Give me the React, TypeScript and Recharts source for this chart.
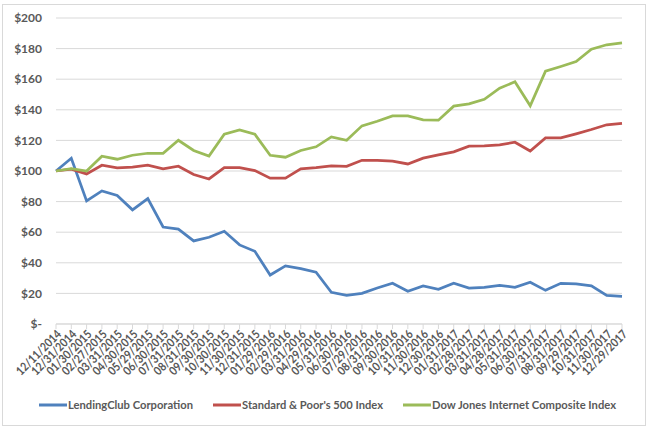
import React from 'react';
import { LineChart, Line, XAxis, YAxis, CartesianGrid, Legend } from 'recharts';

const dates = [
  '12/11/2014', '12/31/2014', '01/30/2015', '02/27/2015', '03/31/2015', '04/30/2015', '05/29/2015',
  '06/30/2015', '07/31/2015', '08/31/2015', '09/30/2015', '10/30/2015', '11/30/2015', '12/31/2015',
  '01/29/2016', '02/29/2016', '03/31/2016', '04/29/2016', '05/31/2016', '06/30/2016', '07/29/2016',
  '08/31/2016', '09/30/2016', '10/31/2016', '11/30/2016', '12/30/2016', '01/31/2017', '02/28/2017',
  '03/31/2017', '04/28/2017', '05/31/2017', '06/30/2017', '07/31/2017', '08/31/2017', '09/29/2017',
  '10/31/2017', '11/30/2017', '12/29/2017',
];

const lendingClub = [
  100, 108.3, 80.4, 87, 84, 74.6, 82, 63.4, 62, 54.3, 56.7, 60.6, 51.7, 47.5, 32, 38, 36.2, 33.8,
  20.7, 18.7, 20, 23.5, 26.6, 21.4, 24.9, 22.7, 26.6, 23.5, 24, 25.3, 24, 27.3, 22, 26.6, 26.2, 24.9,
  18.7, 18.1,
];

const sp500 = [
  100, 101.2, 98.1, 103.8, 102, 102.5, 103.8, 101.4, 103.1, 97.7, 94.8, 102.2, 102.2, 100.3, 95.3,
  95.3, 101.4, 102.2, 103.3, 103.1, 107, 107, 106.4, 104.6, 108.4, 110.5, 112.5, 116.2, 116.4, 117.1,
  118.8, 113.1, 121.6, 121.6, 124.3, 127.1, 130.2, 131.2,
];

const dowJones = [
  100, 101.6, 100, 109.7, 107.7, 110.3, 111.6, 111.6, 120.1, 113.4, 109.7, 124, 126.9, 124, 110.3,
  109, 113.4, 115.8, 122.3, 120.1, 129.5, 132.5, 136, 136, 133.4, 133.2, 142.4, 143.9, 146.9, 154.1,
  158.3, 142.6, 165.2, 168.3, 171.6, 179.6, 182.5, 183.8,
];

const yTicks = [0, 20, 40, 60, 80, 100, 120, 140, 160, 180, 200];

const seriesNames = [
  'LendingClub Corporation',
  "Standard & Poor's 500 Index",
  'Dow Jones Internet Composite Index',
];
const seriesColors = ['#4F81BD', '#C0504D', '#9BBB59'];

const data = dates.map((d, i) => ({
  date: d,
  lc: lendingClub[i],
  sp: sp500[i],
  dj: dowJones[i],
}));

const FONT = "Lato, 'Noto Sans', sans-serif";
const TEXT_COLOR = '#595959';

// style-only widths used to mimic the narrow Calibri rendering
const legendTextWidths = [125, 141, 184];
const LEGEND_LINE = 28;
const LEGEND_GAP = 20;
const LEGEND_START = 39;

const XTick = (props: any) => {
  const { x, y, payload } = props;
  const ax = x + 3;
  const ay = y + 3;
  return (
    <text
      x={ax}
      y={ay}
      transform={`rotate(-45, ${ax}, ${ay})`}
      textAnchor="end"
      dy="0.35em"
      fontSize={12}
      fontWeight="bold"
      fill={TEXT_COLOR}
      fontFamily={FONT}
      textLength={58}
      lengthAdjust="spacingAndGlyphs"
    >
      {payload.value}
    </text>
  );
};

const LegendContent = () => {
  let cx = LEGEND_START;
  const items = seriesNames.map((n, i) => {
    const lx = cx;
    const tx = lx + LEGEND_LINE + 1;
    cx = tx + legendTextWidths[i] + LEGEND_GAP;
    return (
      <g key={n}>
        <line x1={lx} x2={lx + LEGEND_LINE} y1={10} y2={10} stroke={seriesColors[i]} strokeWidth={3} />
        <text
          x={tx}
          y={10}
          dy="0.35em"
          fontSize={12}
          fontWeight="bold"
          fill={TEXT_COLOR}
          fontFamily={FONT}
          textLength={legendTextWidths[i]}
          lengthAdjust="spacingAndGlyphs"
        >
          {n}
        </text>
      </g>
    );
  });
  return (
    <svg width={651} height={20} style={{ display: 'block' }}>
      {items}
    </svg>
  );
};

export default function App() {
  return (
    <div style={{ position: 'absolute', left: 0, top: 0, width: 651, height: 428, background: '#fff' }}>
      <div
        style={{
          position: 'absolute',
          left: 2,
          top: 4,
          width: 642,
          height: 420,
          border: '1px solid #d9d9d9',
        }}
      />
      <LineChart
        width={651}
        height={428}
        data={data}
        margin={{ top: 18, right: 29, left: 0, bottom: 13 }}
        style={{ position: 'absolute', left: 0, top: 0 }}
      >
        <CartesianGrid vertical={false} stroke="#d9d9d9" strokeWidth={1} />
        <XAxis
          dataKey="date"
          interval={0}
          height={71}
          tick={<XTick />}
          tickSize={5}
          tickMargin={0}
          stroke="#d9d9d9"
          axisLine={{ stroke: '#d9d9d9' }}
          tickLine={{ stroke: '#d9d9d9' }}
        />
        <YAxis
          width={56}
          domain={[0, 200]}
          ticks={yTicks}
          interval={0}
          axisLine={false}
          tickLine={false}
          tickSize={0}
          tickMargin={14}
          tickFormatter={(v: number) => (v === 0 ? '$-' : `$${v}`)}
          tick={{ fontSize: 12, fill: TEXT_COLOR, fontFamily: FONT, fontWeight: 'bold' }}
        />
        <Legend verticalAlign="bottom" content={<LegendContent />} />
        <Line type="linear" dataKey="lc" name={seriesNames[0]} stroke={seriesColors[0]} strokeWidth={2.75} dot={false} isAnimationActive={false} />
        <Line type="linear" dataKey="sp" name={seriesNames[1]} stroke={seriesColors[1]} strokeWidth={2.75} dot={false} isAnimationActive={false} />
        <Line type="linear" dataKey="dj" name={seriesNames[2]} stroke={seriesColors[2]} strokeWidth={2.75} dot={false} isAnimationActive={false} />
      </LineChart>
    </div>
  );
}
